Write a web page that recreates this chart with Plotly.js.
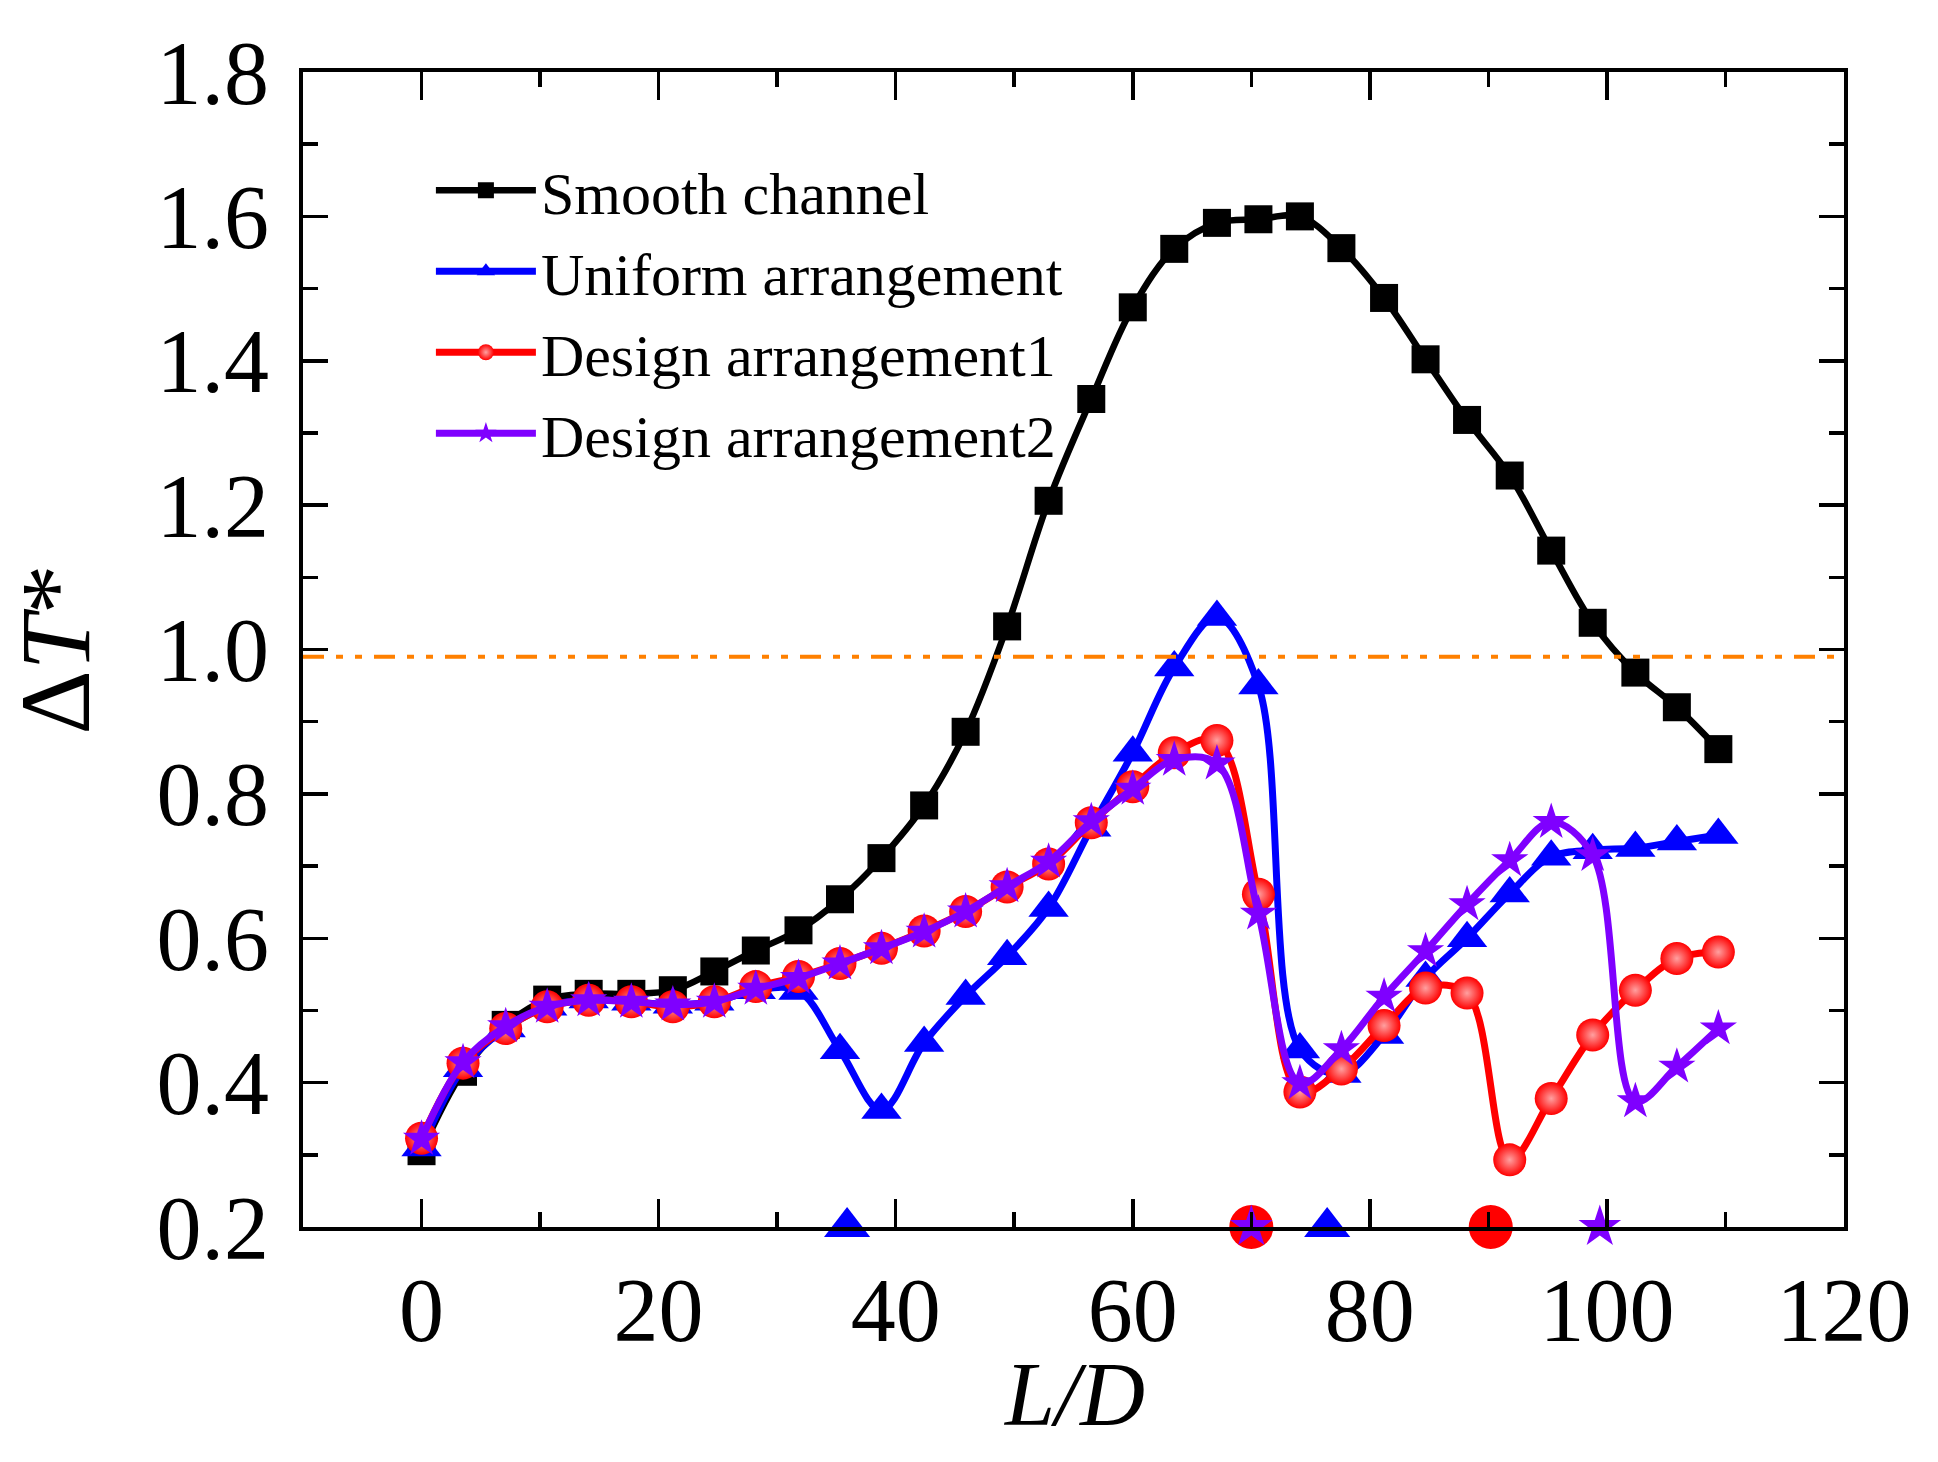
<!DOCTYPE html>
<html>
<head>
<meta charset="utf-8">
<script src="https://cdn.plot.ly/plotly-3.0.1.min.js"></script>
<style>
  html, body { margin: 0; padding: 0; background: #fff; }
  #chart { width: 1938px; height: 1462px; }
</style>
</head>
<body>
<div id="chart"></div>
<script>
// L/D positions of the sampling stations
var ld = [0, 3.5, 7.1, 10.6, 14.1, 17.7, 21.2, 24.7, 28.2, 31.8, 35.3, 38.8, 42.4, 45.9, 49.4, 52.9,
          56.5, 60.0, 63.5, 67.1, 70.6, 74.1, 77.6, 81.2, 84.7, 88.2, 91.8, 95.3, 98.8, 102.4, 105.9, 109.4];

var smoothChannel = [0.305, 0.415, 0.480, 0.515, 0.523, 0.523, 0.528, 0.554, 0.583, 0.611, 0.654, 0.711,
                     0.784, 0.886, 1.032, 1.206, 1.347, 1.474, 1.555, 1.591, 1.596, 1.600, 1.556, 1.487,
                     1.402, 1.318, 1.241, 1.137, 1.037, 0.968, 0.920, 0.862];

var uniform = [0.310, 0.420, 0.475, 0.505, 0.515, 0.512, 0.508, 0.512, 0.528, 0.527, 0.445, 0.362,
               0.455, 0.520, 0.575, 0.642, 0.753, 0.857, 0.975, 1.045, 0.950, 0.446, 0.412, 0.466,
               0.545, 0.600, 0.662, 0.713, 0.722, 0.725, 0.734, 0.743];

var design1 = [0.323, 0.427, 0.475, 0.505, 0.514, 0.512, 0.505, 0.512, 0.533, 0.547, 0.565, 0.586,
               0.610, 0.637, 0.671, 0.703, 0.760, 0.810, 0.857, 0.874, 0.661, 0.387, 0.419, 0.479,
               0.531, 0.524, 0.293, 0.378, 0.466, 0.528, 0.572, 0.581];

var design2 = [0.322, 0.428, 0.478, 0.505, 0.514, 0.512, 0.508, 0.512, 0.530, 0.545, 0.565, 0.586,
               0.609, 0.637, 0.672, 0.706, 0.762, 0.807, 0.847, 0.842, 0.634, 0.399, 0.446, 0.519,
               0.582, 0.647, 0.708, 0.761, 0.715, 0.374, 0.422, 0.475];

// markers sitting on the bottom axis
var axisMarkX_uniform = [35.9, 76.4];
var axisMarkX_design1 = [70.0, 90.2];
var axisMarkX_design2 = [70.0, 99.4];
var axisLevel = 0.2;

var refLevel = 0.99;

var names = ['Smooth channel', 'Uniform arrangement', 'Design arrangement1', 'Design arrangement2'];

function repeat(v, n) { var a = []; for (var i = 0; i < n; i++) a.push(v); return a; }

var serif = 'Liberation Serif, Times New Roman, serif';

var data = [
  {
    x: ld, y: smoothChannel, name: names[0], mode: 'lines+markers',
    line: {color: '#000000', width: 6.5, shape: 'spline', smoothing: 1},
    marker: {symbol: 'square', size: 28, color: '#000000'}
  },
  {
    x: ld, y: uniform, name: names[1], mode: 'lines+markers',
    line: {color: '#0000ff', width: 7, shape: 'spline', smoothing: 1},
    marker: {symbol: 'triangle-up', size: 35, color: '#0000ff'}
  },
  {
    x: ld, y: design1, name: names[2], mode: 'lines+markers',
    line: {color: '#ff0000', width: 7, shape: 'spline', smoothing: 1},
    marker: {symbol: 'circle', size: 33, color: '#ff0000',
             gradient: {type: 'radial', color: '#ffa0a0'}}
  },
  {
    x: ld, y: design2, name: names[3], mode: 'lines+markers',
    line: {color: '#7f00ff', width: 7, shape: 'spline', smoothing: 1},
    marker: {symbol: 'star', size: 28, color: '#7f00ff'}
  },
  {
    x: axisMarkX_uniform, y: repeat(axisLevel, axisMarkX_uniform.length), mode: 'markers',
    showlegend: false, cliponaxis: false,
    marker: {symbol: 'triangle-up', size: 40, color: '#0000ff'}
  },
  {
    x: axisMarkX_design1, y: repeat(axisLevel, axisMarkX_design1.length), mode: 'markers',
    showlegend: false, cliponaxis: false,
    marker: {symbol: 'circle', size: 44, color: '#ff0000'}
  },
  {
    x: axisMarkX_design2, y: repeat(axisLevel, axisMarkX_design2.length), mode: 'markers',
    showlegend: false, cliponaxis: false,
    marker: {symbol: 'star', size: 32, color: '#7f00ff'}
  }
];

var layout = {
  width: 1938,
  height: 1462,
  paper_bgcolor: '#ffffff',
  plot_bgcolor: '#ffffff',
  margin: {l: 303, r: 94, t: 72, b: 235},
  font: {family: serif, color: '#000000', size: 60},
  showlegend: true,
  legend: {
    x: 0.083, y: 0.937, xanchor: 'left', yanchor: 'top',
    bgcolor: 'rgba(0,0,0,0)', borderwidth: 0,
    font: {family: serif, size: 60, color: '#000000'},
    itemwidth: 100, tracegroupgap: 0
  },
  xaxis: {
    range: [-10, 120],
    tick0: 0, dtick: 20,
    ticks: 'inside', ticklen: 28, tickwidth: 3.5, tickcolor: '#000000',
    minor: {dtick: 10, ticks: 'inside', ticklen: 15, tickwidth: 3.5, tickcolor: '#000000'},
    showline: true, linecolor: '#000000', linewidth: 4, mirror: 'allticks',
    showgrid: false, zeroline: false,
    tickfont: {family: serif, size: 90, color: '#000000'},
    ticklabelstandoff: 2
  },
  yaxis: {
    range: [0.2, 1.8],
    tick0: 0.2, dtick: 0.2, tickformat: '.1f',
    ticks: 'inside', ticklen: 25, tickwidth: 3.5, tickcolor: '#000000',
    minor: {dtick: 0.1, ticks: 'inside', ticklen: 15, tickwidth: 3.5, tickcolor: '#000000'},
    showline: true, linecolor: '#000000', linewidth: 4, mirror: 'allticks',
    showgrid: false, zeroline: false,
    tickfont: {family: serif, size: 90, color: '#000000'},
    ticklabelstandoff: 12,
    title: {text: '\u0394<i>T</i>*', font: {family: serif, size: 100, color: '#000000'}, standoff: 52}
  },
  annotations: [
    {
      text: '<i>L/D</i>', xref: 'paper', yref: 'paper', x: 0.5, y: -0.145,
      xanchor: 'center', yanchor: 'middle', showarrow: false,
      font: {family: serif, size: 90, color: '#000000'}
    }
  ],
  shapes: [
    {
      type: 'line', xref: 'paper', x0: 0, x1: 1, yref: 'y', y0: refLevel, y1: refLevel,
      line: {color: '#ff8000', width: 4, dash: '21px,12px,7px,12px,7px,12px'}
    }
  ]
};

Plotly.newPlot('chart', data, layout, {displayModeBar: false, staticPlot: true});
</script>
</body>
</html>
